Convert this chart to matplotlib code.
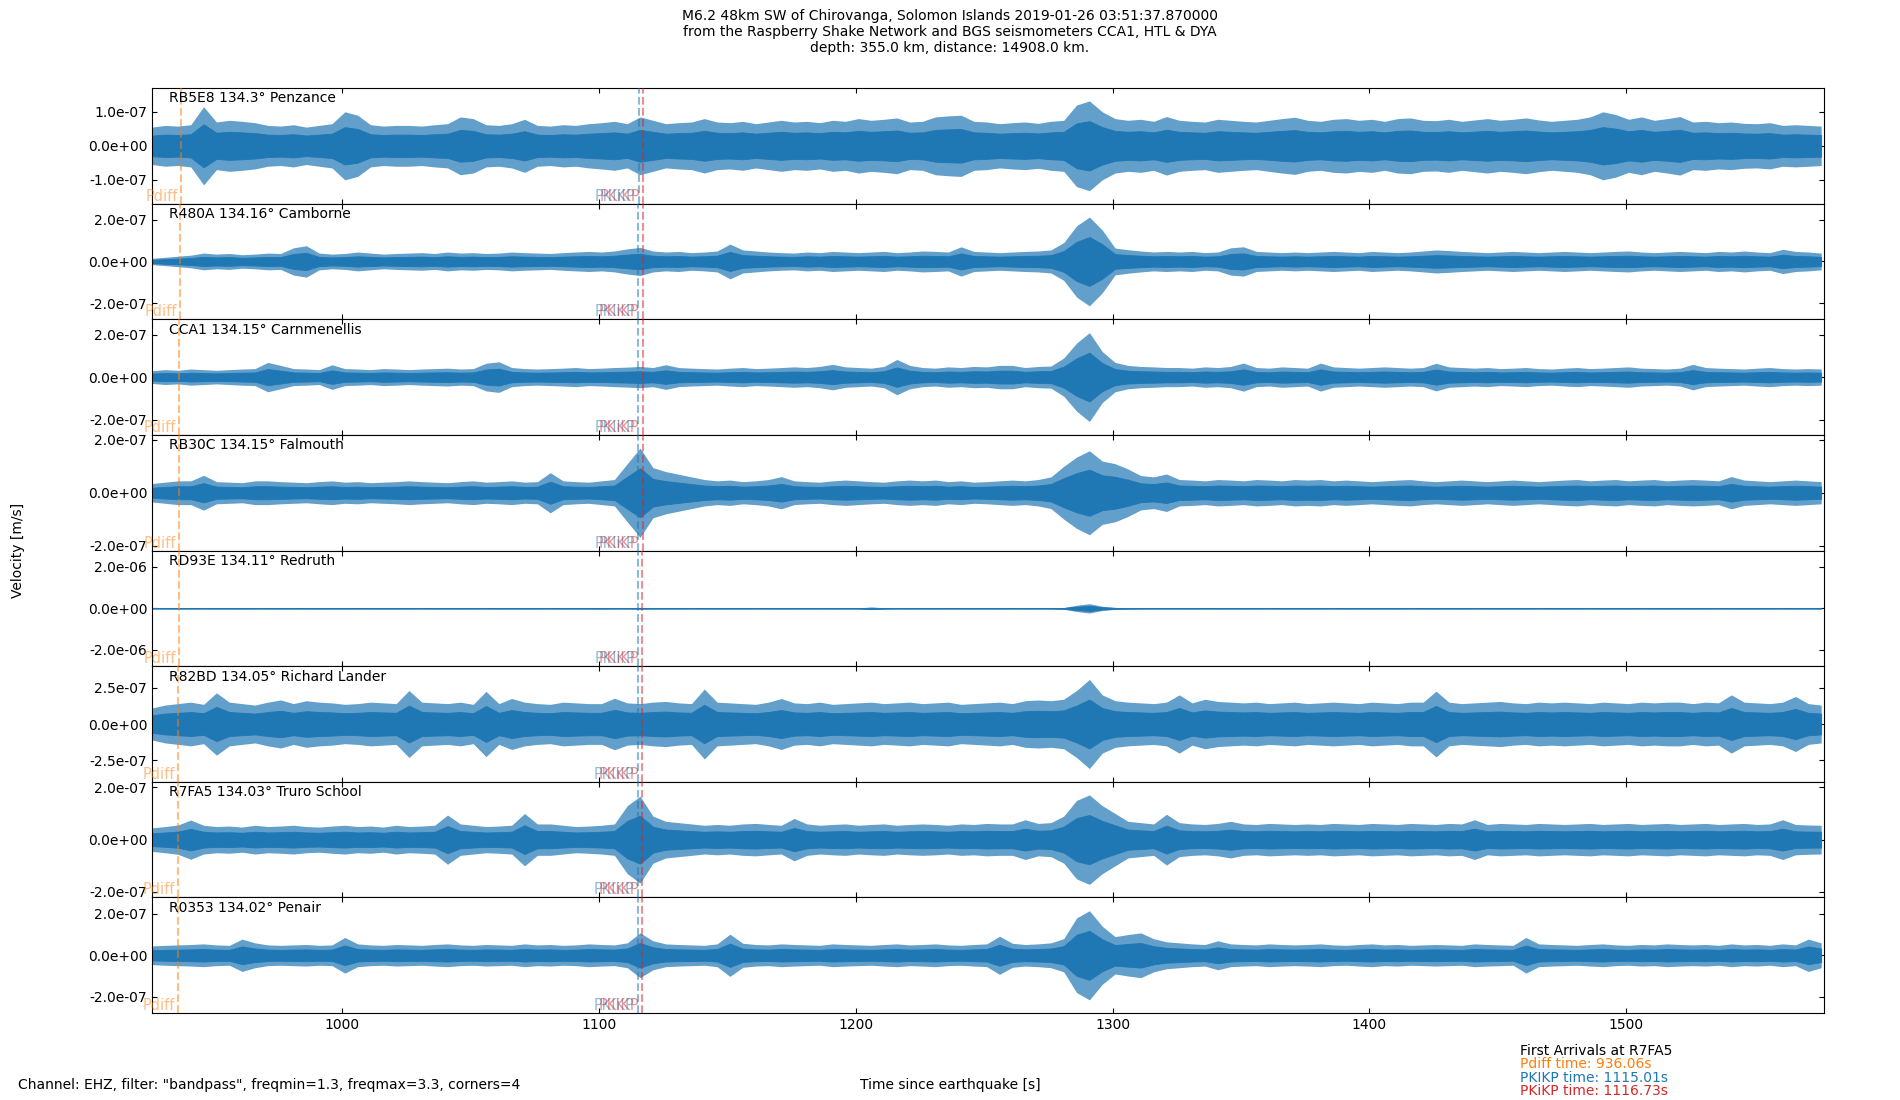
import numpy as np
import matplotlib
matplotlib.use("Agg")
import matplotlib.pyplot as plt
from matplotlib.transforms import blended_transform_factory, offset_copy

# stations (top to bottom)
codes = ["RB5E8", "R480A", "CCA1", "RB30C", "RD93E", "R82BD", "R7FA5", "R0353"]
dists = [134.3, 134.16, 134.15, 134.15, 134.11, 134.05, 134.03, 134.02]
places = ["Penzance", "Camborne", "Carnmenellis", "Falmouth", "Redruth",
          "Richard Lander", "Truro School", "Penair"]

# predicted arrivals [s] per station
pdiff_t = [937.30, 936.66, 936.61, 936.61, 936.43, 936.15, 936.06, 936.01]
pkikp_t = [1115.52, 1115.26, 1115.24, 1115.24, 1115.16, 1115.05, 1115.01, 1114.99]
pkikp2_t = [1117.24, 1116.98, 1116.96, 1116.96, 1116.88, 1116.77, 1116.73, 1116.71]

# y axis: tick value and half range per trace [m/s]
ytick_vals = [1.0e-7, 2.0e-7, 2.0e-7, 2.0e-7, 2.0e-6, 2.5e-7, 2.0e-7, 2.0e-7]
ylims = [1.70e-7, 2.76e-7, 2.72e-7, 2.19e-7, 2.78e-6, 3.97e-7, 2.21e-7, 2.79e-7]

# peak amplitude of each 5 s window [1e-9 m/s]
t_start, t_step = 926, 5
amp_RB5E8 = [55, 60, 58, 62, 115, 70, 75, 72, 68, 60,
             58, 62, 55, 60, 65, 100, 90, 62, 58, 60,
             60, 58, 62, 65, 85, 80, 62, 60, 65, 78,
             60, 58, 62, 60, 65, 68, 72, 65, 85, 75,
             65, 68, 70, 80, 70, 68, 72, 65, 70, 75,
             70, 72, 68, 75, 72, 80, 75, 78, 82, 70,
             72, 85, 88, 90, 72, 70, 65, 68, 70, 66,
             72, 75, 120, 132, 100, 80, 75, 78, 72, 86,
             75, 72, 70, 78, 75, 72, 70, 75, 80, 84,
             75, 72, 78, 80, 75, 78, 72, 80, 82, 75,
             74, 78, 72, 76, 80, 75, 78, 82, 76, 72,
             75, 78, 85, 100, 92, 78, 85, 75, 80, 86,
             70, 72, 68, 70, 66, 65, 68, 60, 62, 60, 58]
amp_R480A = [15, 20, 25, 30, 40, 35, 38, 32, 35, 40,
             38, 65, 75, 40, 35, 38, 45, 40, 35, 38,
             40, 42, 38, 45, 40, 42, 38, 40, 45, 42,
             40, 38, 42, 45, 48, 45, 50, 60, 67, 50,
             45, 48, 42, 45, 50, 83, 55, 50, 45, 42,
             40, 45, 42, 48, 45, 42, 45, 48, 42, 45,
             50, 48, 45, 70, 48, 45, 42, 45, 48, 50,
             55, 90, 170, 212, 150, 64, 56, 50, 45, 48,
             45, 48, 42, 45, 65, 70, 48, 45, 42, 45,
             42, 45, 48, 45, 42, 48, 45, 42, 45, 50,
             55, 52, 48, 45, 42, 45, 48, 45, 42, 45,
             48, 45, 42, 45, 48, 50, 45, 42, 45, 48,
             45, 42, 48, 45, 50, 45, 42, 58, 48, 45, 40]
amp_CCA1 = [30, 35, 32, 38, 35, 32, 35, 38, 40, 69,
            55, 40, 38, 35, 58, 40, 38, 35, 40, 38,
            35, 38, 40, 42, 38, 40, 65, 72, 45, 40,
            38, 40, 42, 45, 40, 42, 45, 47, 50, 45,
            58, 45, 42, 40, 38, 42, 45, 40, 42, 45,
            48, 45, 50, 60, 48, 45, 42, 50, 83, 55,
            45, 42, 48, 45, 50, 48, 55, 55, 45, 50,
            52, 90, 160, 209, 120, 69, 55, 50, 48, 45,
            45, 42, 48, 45, 50, 66, 45, 42, 48, 45,
            42, 66, 48, 45, 42, 45, 48, 45, 42, 45,
            65, 48, 45, 42, 45, 40, 42, 45, 40, 38,
            42, 45, 40, 42, 45, 48, 42, 40, 38, 42,
            60, 45, 42, 40, 38, 42, 45, 40, 38, 40, 38]
amp_RB30C = [35, 40, 45, 45, 66, 42, 40, 38, 45, 45,
             42, 40, 38, 42, 45, 40, 42, 38, 40, 42,
             45, 42, 40, 38, 42, 45, 40, 42, 45, 40,
             42, 76, 45, 42, 40, 45, 50, 110, 169, 95,
             80, 70, 60, 50, 45, 48, 42, 45, 50, 61,
             45, 42, 40, 45, 48, 45, 42, 40, 45, 48,
             45, 48, 42, 45, 40, 42, 45, 48, 45, 50,
             60, 100, 135, 159, 120, 110, 90, 65, 60, 71,
             50, 48, 45, 50, 48, 45, 50, 48, 45, 50,
             48, 50, 45, 48, 45, 42, 45, 48, 50, 45,
             42, 45, 48, 45, 42, 45, 48, 45, 42, 45,
             48, 50, 45, 48, 50, 45, 48, 50, 45, 48,
             50, 48, 45, 61, 48, 45, 42, 45, 48, 45, 42]
amp_RD93E = [20, 22, 25, 22, 20, 24, 22, 25, 20, 22,
             24, 22, 20, 25, 22, 24, 20, 22, 25, 24,
             22, 20, 24, 22, 25, 22, 20, 24, 22, 25,
             22, 20, 24, 22, 25, 28, 22, 24, 30, 25,
             22, 24, 20, 22, 25, 22, 24, 20, 22, 25,
             22, 24, 20, 25, 22, 24, 60, 30, 22, 24,
             22, 25, 20, 22, 24, 22, 25, 20, 24, 22,
             25, 40, 150, 225, 100, 45, 30, 25, 22, 24,
             22, 25, 20, 24, 22, 25, 22, 20, 24, 22,
             25, 22, 20, 24, 22, 25, 22, 24, 20, 22,
             24, 22, 25, 20, 22, 24, 22, 25, 20, 22,
             24, 22, 20, 25, 22, 24, 20, 22, 25, 22,
             24, 22, 20, 22, 25, 24, 22, 20, 22, 24, 22]
amp_R82BD = [110, 130, 140, 150, 135, 214, 150, 140, 130, 150,
             165, 140, 160, 150, 145, 135, 140, 150, 145, 140,
             230, 150, 145, 140, 150, 135, 224, 140, 175, 150,
             140, 135, 150, 145, 140, 140, 177, 145, 140, 150,
             155, 145, 140, 240, 150, 145, 140, 135, 150, 175,
             145, 140, 150, 135, 140, 145, 150, 140, 145, 150,
             140, 145, 150, 135, 140, 145, 150, 140, 160, 165,
             160, 170, 230, 306, 200, 160, 150, 145, 140, 150,
             200, 145, 170, 155, 150, 145, 150, 140, 145, 150,
             140, 145, 150, 145, 140, 150, 145, 140, 150, 150,
             226, 150, 140, 145, 150, 155, 145, 140, 150, 145,
             150, 145, 140, 150, 145, 140, 150, 145, 150, 150,
             140, 150, 145, 200, 150, 145, 140, 150, 189, 140, 130]
amp_R7FA5 = [45, 50, 56, 75, 55, 50, 52, 48, 55, 50,
             52, 55, 50, 48, 52, 55, 50, 52, 48, 55,
             50, 52, 55, 94, 60, 55, 50, 52, 55, 100,
             60, 60, 55, 50, 52, 55, 60, 130, 166, 90,
             70, 65, 60, 55, 58, 55, 60, 62, 58, 55,
             81, 60, 55, 58, 60, 55, 58, 60, 55, 58,
             60, 58, 55, 60, 58, 62, 60, 60, 76, 62,
             65, 90, 150, 171, 130, 100, 70, 65, 60, 97,
             65, 60, 58, 62, 70, 60, 58, 62, 60, 58,
             60, 58, 62, 60, 58, 62, 60, 58, 62, 60,
             58, 62, 60, 76, 58, 62, 60, 58, 62, 60,
             58, 60, 62, 58, 60, 62, 58, 60, 62, 58,
             60, 62, 58, 60, 62, 58, 60, 76, 58, 56, 55]
amp_R0353 = [45, 48, 50, 52, 55, 50, 48, 78, 60, 50,
             48, 50, 52, 48, 50, 86, 55, 50, 48, 52,
             50, 48, 52, 55, 50, 48, 52, 50, 48, 55,
             50, 52, 48, 50, 55, 52, 50, 60, 108, 70,
             55, 52, 50, 48, 55, 102, 58, 52, 50, 55,
             52, 50, 48, 55, 52, 50, 48, 52, 55, 50,
             52, 55, 50, 48, 52, 55, 92, 58, 52, 55,
             60, 80, 180, 215, 140, 90, 100, 108, 80, 65,
             60, 55, 52, 70, 55, 52, 50, 55, 52, 50,
             52, 55, 50, 48, 52, 55, 50, 52, 48, 50,
             52, 50, 48, 55, 52, 50, 48, 86, 55, 52,
             50, 48, 52, 55, 50, 48, 52, 50, 55, 52,
             50, 52, 48, 55, 50, 52, 48, 55, 50, 78, 60]
amps = [amp_RB5E8, amp_R480A, amp_CCA1, amp_RB30C,
        amp_RD93E, amp_R82BD, amp_R7FA5, amp_R0353]

title = ("M6.2 48km SW of Chirovanga, Solomon Islands 2019-01-26 03:51:37.870000\n"
         "from the Raspberry Shake Network and BGS seismometers CCA1, HTL & DYA\n"
         "depth: 355.0 km, distance: 14908.0 km.")
filt_note = 'Channel: EHZ, filter: "bandpass", freqmin=1.3, freqmax=3.3, corners=4'
first_arr = [("First Arrivals at R7FA5", "black"),
             ("Pdiff time: 936.06s", "C1"),
             ("PKIKP time: 1115.01s", "C0"),
             ("PKiKP time: 1116.73s", "C3")]

fig, axs = plt.subplots(len(codes), 1, figsize=(19, 11), dpi=100, sharex=True,
                        gridspec_kw=dict(hspace=0))
fig.subplots_adjust(left=0.08, right=0.96, bottom=0.079, top=0.92)

for i, ax in enumerate(axs):
    a = np.array(amps[i]) * 1e-9
    t = t_start + t_step * np.arange(len(a))
    # dense core of the trace, spiky outer part drawn lighter
    ax.fill_between(t, -a, a, color="C0", alpha=0.7, lw=0, zorder=2)
    ax.fill_between(t, -0.55 * a, 0.55 * a, color="C0", lw=0.6, zorder=2)

    trans = blended_transform_factory(ax.transData, ax.transAxes)
    for tt, col, name in [(pdiff_t[i], "C1", "Pdiff"),
                          (pkikp_t[i], "C0", "PKIKP"),
                          (pkikp2_t[i], "C3", "PKiKP")]:
        ax.axvline(tt, color=col, ls="--", lw=1.5, alpha=0.5, zorder=3)
        ax.text(tt, 0.0, name, color=col, alpha=0.5, fontsize=10.5,
                ha="right", va="bottom",
                transform=offset_copy(trans, fig=fig, x=-3, y=0, units="dots"))

    ax.text(0.01, 0.97, f"{codes[i]} {dists[i]}° {places[i]}",
            transform=ax.transAxes, ha="left", va="top", fontsize=10)

    ax.set_ylim(-ylims[i], ylims[i])
    ax.set_yticks([-ytick_vals[i], 0, ytick_vals[i]])
    ax.yaxis.set_major_formatter(plt.FormatStrFormatter("%.1e"))
    ax.tick_params(direction="in", top=True, right=True, labelsize=10)

axs[-1].set_xlim(925.9, 1577.1)
axs[-1].set_xticks([1000, 1100, 1200, 1300, 1400, 1500])

fig.suptitle(title, fontsize=10, y=0.992, va="top")
fig.text(0.0095, 0.5, "Velocity [m/s]", rotation=90, ha="center", va="center",
         fontsize=10)
fig.text(0.5, 0.0136, "Time since earthquake [s]", ha="center", va="center",
         fontsize=10)
fig.text(0.0095, 0.0136, filt_note, ha="left", va="center", fontsize=10)
for j, (txt, col) in enumerate(first_arr):
    fig.text(0.8, 0.0445 - 0.0121 * j, txt, color=col, ha="left", va="center",
             fontsize=10)

fig.savefig("out.png", dpi=100)
